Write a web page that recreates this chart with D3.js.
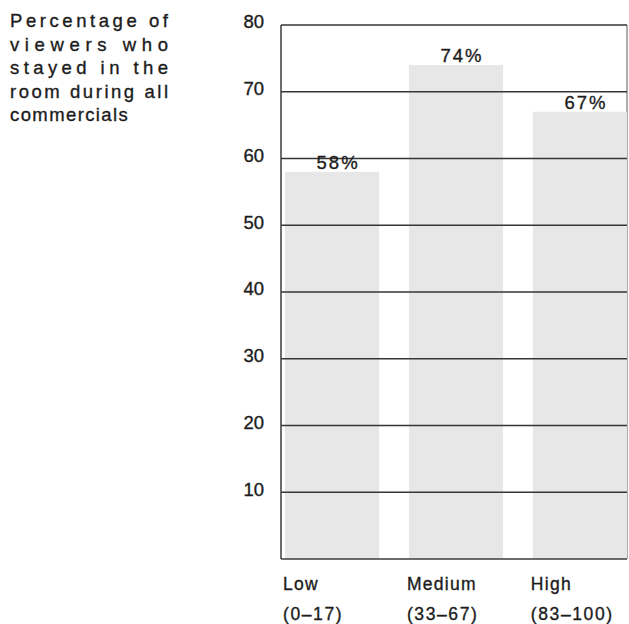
<!DOCTYPE html>
<html>
<head>
<meta charset="utf-8">
<script src="https://cdn.jsdelivr.net/npm/d3@7"></script>
<style>
  html, body { margin: 0; padding: 0; background: #fff; }
  svg { display: block; font-family: "Liberation Sans", Arial, Helvetica, sans-serif; }
  svg text { stroke: #1c1c1c; stroke-width: 0.35px; }
</style>
</head>
<body>
<svg id="chart" width="629" height="624"></svg>
<script>
// Viewer groups and their share who stayed in the room
const categories = ["Low", "Medium", "High"];
const ranges = ["(0–17)", "(33–67)", "(83–100)"];
const values = [58, 74, 67];
const valueLabels = ["58%", "74%", "67%"];
const yTicks = [10, 20, 30, 40, 50, 60, 70, 80];
const titleLines = ["Percentage of", "viewers who", "stayed in the", "room during all", "commercials"];

const svg = d3.select("#chart");
const ink = "#1c1c1c";

const frame = { left: 281, right: 627, top: 25, bottom: 559 };

const y = d3.scaleLinear().domain([0, 80]).range([frame.bottom, frame.top]);
const x = d3.scaleBand().domain(categories).range([285, 627]).paddingInner(0.24).paddingOuter(0);

// Right edge of the frame sits under the bars
svg.append("line").attr("x1", frame.right).attr("x2", frame.right)
  .attr("y1", frame.top).attr("y2", frame.bottom)
  .attr("stroke", "#777").attr("stroke-width", 1.2);

// Bars
svg.append("g").selectAll("rect").data(categories).join("rect")
  .attr("x", d => x(d))
  .attr("width", x.bandwidth())
  .attr("y", (d, i) => y(values[i]))
  .attr("height", (d, i) => y(0) - y(values[i]))
  .attr("fill", "#e7e7e7");

// Horizontal rules at each tick, drawn over the bars
svg.append("g").selectAll("line").data(yTicks).join("line")
  .attr("x1", frame.left).attr("x2", frame.right)
  .attr("y1", d => y(d)).attr("y2", d => y(d))
  .attr("stroke", "#363636").attr("stroke-width", 1.7);

// Frame: left and bottom edges
svg.append("line").attr("x1", frame.left).attr("x2", frame.left)
  .attr("y1", frame.top).attr("y2", frame.bottom)
  .attr("stroke", "#3c3c3c").attr("stroke-width", 1.5);
svg.append("line").attr("x1", frame.left).attr("x2", frame.right)
  .attr("y1", frame.bottom).attr("y2", frame.bottom)
  .attr("stroke", "#3c3c3c").attr("stroke-width", 1.7);

// Y tick labels
svg.append("g").selectAll("text").data(yTicks).join("text")
  .attr("x", 264)
  .attr("y", d => y(d) - 3)
  .attr("dy", "0.35em")
  .attr("text-anchor", "end")
  .attr("font-size", 18.5)
  .attr("fill", ink)
  .text(d => d);

// Value labels above the bars
svg.append("g").selectAll("text").data(categories).join("text")
  .attr("x", d => x(d) + x.bandwidth() / 2 + 6)
  .attr("y", (d, i) => y(values[i]) - 3)
  .attr("text-anchor", "middle")
  .attr("font-size", 18.5)
  .attr("letter-spacing", 2)
  .attr("fill", ink)
  .text((d, i) => valueLabels[i]);

// Category labels
const cat = svg.append("g").selectAll("g").data(categories).join("g");
cat.append("text")
  .attr("x", d => x(d) - 2)
  .attr("y", 590)
  .attr("font-size", 17.5)
  .attr("letter-spacing", 1.3)
  .attr("fill", ink)
  .text(d => d);
cat.append("text")
  .attr("x", d => x(d) - 2)
  .attr("y", 620)
  .attr("font-size", 17.5)
  .attr("letter-spacing", 1.6)
  .attr("fill", ink)
  .text((d, i) => ranges[i]);

// Justified caption at the top left
svg.append("g").selectAll("text").data(titleLines).join("text")
  .attr("x", 10)
  .attr("y", (d, i) => 27 + i * 23.6)
  .attr("font-size", 18.5)
  .attr("fill", ink)
  .each(function (d, i) {
    const t = d3.select(this);
    if (i < titleLines.length - 1) {
      t.attr("textLength", 158).attr("lengthAdjust", "spacing");
    } else {
      t.attr("letter-spacing", 1.4);
    }
  })
  .text(d => d);
</script>
</body>
</html>
